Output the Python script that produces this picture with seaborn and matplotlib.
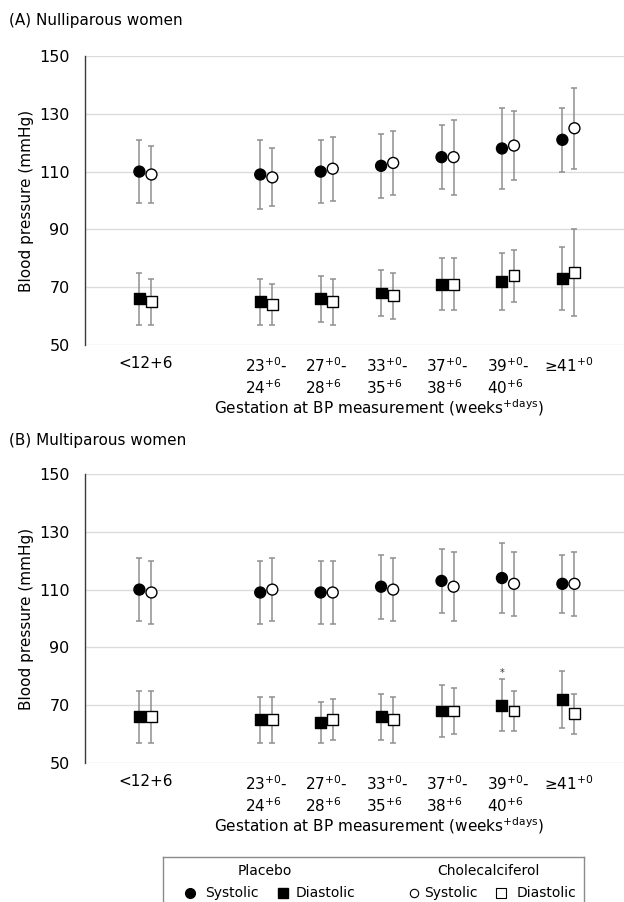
import numpy as np
import pandas as pd
import matplotlib.pyplot as plt
import seaborn as sns

# categories (gestation window) and tick labels
categories = ["<12+6", "23-24", "27-28", "33-35", "37-38", "39-40", ">=41"]
tick_labels = [
    "<12+6",
    "23$^{\\mathrm{+0}}$-\n24$^{\\mathrm{+6}}$",
    "27$^{\\mathrm{+0}}$-\n28$^{\\mathrm{+6}}$",
    "33$^{\\mathrm{+0}}$-\n35$^{\\mathrm{+6}}$",
    "37$^{\\mathrm{+0}}$-\n38$^{\\mathrm{+6}}$",
    "39$^{\\mathrm{+0}}$-\n40$^{\\mathrm{+6}}$",
    "≥41$^{\\mathrm{+0}}$",
]

# (A) nulliparous: mean, lower, upper
a_sys_pl = [110, 109, 110, 112, 115, 118, 121]
a_sys_pl_lo = [99, 97, 99, 101, 104, 104, 110]
a_sys_pl_hi = [121, 121, 121, 123, 126, 132, 132]
a_sys_ch = [109, 108, 111, 113, 115, 119, 125]
a_sys_ch_lo = [99, 98, 100, 102, 102, 107, 111]
a_sys_ch_hi = [119, 118, 122, 124, 128, 131, 139]
a_dia_pl = [66, 65, 66, 68, 71, 72, 73]
a_dia_pl_lo = [57, 57, 58, 60, 62, 62, 62]
a_dia_pl_hi = [75, 73, 74, 76, 80, 82, 84]
a_dia_ch = [65, 64, 65, 67, 71, 74, 75]
a_dia_ch_lo = [57, 57, 57, 59, 62, 65, 60]
a_dia_ch_hi = [73, 71, 73, 75, 80, 83, 90]

# (B) multiparous
b_sys_pl = [110, 109, 109, 111, 113, 114, 112]
b_sys_pl_lo = [99, 98, 98, 100, 102, 102, 102]
b_sys_pl_hi = [121, 120, 120, 122, 124, 126, 122]
b_sys_ch = [109, 110, 109, 110, 111, 112, 112]
b_sys_ch_lo = [98, 99, 98, 99, 99, 101, 101]
b_sys_ch_hi = [120, 121, 120, 121, 123, 123, 123]
b_dia_pl = [66, 65, 64, 66, 68, 70, 72]
b_dia_pl_lo = [57, 57, 57, 58, 59, 61, 62]
b_dia_pl_hi = [75, 73, 71, 74, 77, 79, 82]
b_dia_ch = [66, 65, 65, 65, 68, 68, 67]
b_dia_ch_lo = [57, 57, 58, 57, 60, 61, 60]
b_dia_ch_hi = [75, 73, 72, 73, 76, 75, 74]

# significant difference marker (panel B, diastolic, 39-40)
b_signif = ["39-40"]

# layout: empty slot between first and second category
slot = [0, 2, 3, 4, 5, 6, 7]
offset = {"Placebo": -0.1, "Cholecalciferol": 0.1}


def long_table(series):
    rows = []
    for (grp, meas), (mean, lo, hi) in series.items():
        for i, cat in enumerate(categories):
            rows.append({"group": grp, "measure": meas, "cat": cat,
                         "x": slot[i] + offset[grp],
                         "mean": mean[i], "lo": lo[i], "hi": hi[i]})
    return pd.DataFrame(rows)


df_a = long_table({
    ("Placebo", "Systolic"): (a_sys_pl, a_sys_pl_lo, a_sys_pl_hi),
    ("Cholecalciferol", "Systolic"): (a_sys_ch, a_sys_ch_lo, a_sys_ch_hi),
    ("Placebo", "Diastolic"): (a_dia_pl, a_dia_pl_lo, a_dia_pl_hi),
    ("Cholecalciferol", "Diastolic"): (a_dia_ch, a_dia_ch_lo, a_dia_ch_hi),
})
df_b = long_table({
    ("Placebo", "Systolic"): (b_sys_pl, b_sys_pl_lo, b_sys_pl_hi),
    ("Cholecalciferol", "Systolic"): (b_sys_ch, b_sys_ch_lo, b_sys_ch_hi),
    ("Placebo", "Diastolic"): (b_dia_pl, b_dia_pl_lo, b_dia_pl_hi),
    ("Cholecalciferol", "Diastolic"): (b_dia_ch, b_dia_ch_lo, b_dia_ch_hi),
})

sns.set_style("white")
plt.rcParams["font.family"] = ["DejaVu Sans"]
plt.rcParams["mathtext.fontset"] = "dejavusans"
plt.rcParams["text.color"] = "black"
plt.rcParams["axes.labelcolor"] = "black"
plt.rcParams["xtick.color"] = "black"
plt.rcParams["ytick.color"] = "black"

W, H = 624, 902
fig = plt.figure(figsize=(W / 100, H / 100), dpi=100)


def draw_panel(ax, d):
    ax.errorbar(d["x"], d["mean"], yerr=[d["mean"] - d["lo"], d["hi"] - d["mean"]],
                fmt="none", ecolor="#8f8f8f", elinewidth=1.1, capsize=2, capthick=1.1, zorder=2)
    sns.scatterplot(data=d, x="x", y="mean", hue="group", style="measure",
                    palette={"Placebo": "black", "Cholecalciferol": "white"},
                    markers={"Systolic": "o", "Diastolic": "s"},
                    s=62, edgecolor="black", linewidth=1, legend=False, ax=ax, zorder=3)
    ax.set_xlim(-1, 7.92)
    ax.set_ylim(50, 150)
    ax.set_yticks(range(50, 151, 20))
    ax.set_xticks(slot)
    ax.set_xticklabels(tick_labels, fontsize=11, multialignment="left")
    ax.tick_params(axis="y", length=0, pad=11, labelsize=11.5)
    ax.tick_params(axis="x", length=0, pad=8)
    ax.grid(axis="y", color="#dcdcdc", lw=1)
    ax.set_axisbelow(True)
    for s in ["top", "right", "bottom"]:
        ax.spines[s].set_visible(False)
    ax.spines["left"].set_color("#3a3a3a")
    ax.spines["left"].set_linewidth(1)
    ax.set_xlabel("Gestation at BP measurement (weeks$^{\\mathrm{+days}}$)", fontsize=11)
    ax.set_ylabel("Blood pressure (mmHg)", fontsize=11)
    ax.xaxis.set_label_coords((379 - 85) / 539, -0.18)
    ax.yaxis.set_label_coords((34 - 85) / 539, 0.5)


axA = fig.add_axes([85 / W, 1 - 345 / H, 539 / W, 289 / H])
draw_panel(axA, df_a)
axB = fig.add_axes([85 / W, 1 - 763 / H, 539 / W, 289 / H])
draw_panel(axB, df_b)

for cat in b_signif:
    r = df_b[(df_b["cat"] == cat) & (df_b["group"] == "Placebo") & (df_b["measure"] == "Diastolic")].iloc[0]
    axB.text(r["x"], r["hi"] + 2, "*", ha="center", va="center", fontsize=7, color="#333333")

fig.text(9 / W, 1 - 20 / H, "(A) Nulliparous women", va="center", fontsize=11)
fig.text(9 / W, 1 - 440 / H, "(B) Multiparous women", va="center", fontsize=11)

# legend box
lax = fig.add_axes([163 / W, -12 / H, 421 / W, 57 / H])
lax.set_xlim(163, 584)
lax.set_ylim(914, 857)
lax.set_xticks([])
lax.set_yticks([])
for s in lax.spines.values():
    s.set_color("#8a8a8a")
    s.set_linewidth(1)
lax.text(265, 871, "Placebo", ha="center", va="center", fontsize=10)
lax.text(488, 871, "Cholecalciferol", ha="center", va="center", fontsize=10)
lax.plot([190], [893], "o", ms=7, mfc="black", mec="black")
lax.text(205, 893, "Systolic", va="center", fontsize=10)
lax.plot([283], [893], "s", ms=7, mfc="black", mec="black")
lax.text(296, 893, "Diastolic", va="center", fontsize=10)
lax.plot([414], [893], "o", ms=6, mfc="white", mec="black", mew=0.8)
lax.text(424, 893, "Systolic", va="center", fontsize=10)
lax.plot([501], [893], "s", ms=7, mfc="white", mec="black", mew=0.8)
lax.text(517, 893, "Diastolic", va="center", fontsize=10)

fig.savefig("out.png", dpi=100)
